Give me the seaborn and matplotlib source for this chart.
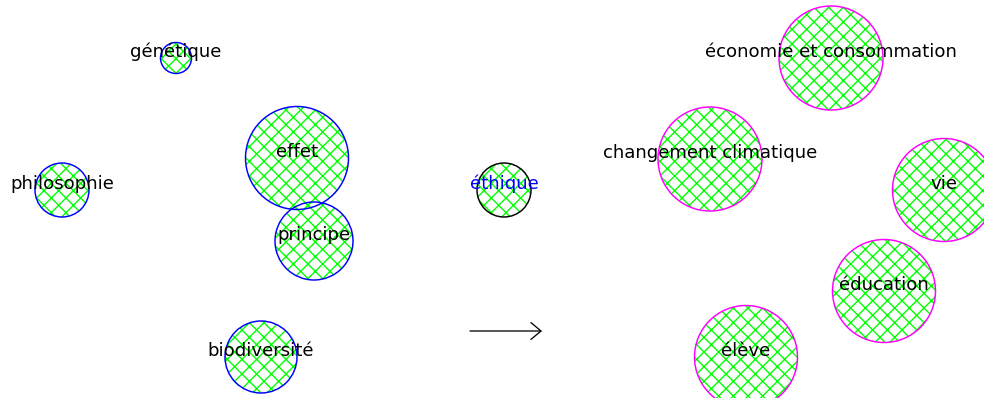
import numpy as np
import pandas as pd
import matplotlib
matplotlib.use("Agg")
import matplotlib.pyplot as plt
import seaborn as sns

# mots-clés, à gauche de la flèche
left_labels = ["génétique", "effet", "philosophie", "principe", "biodiversité"]
left_x = [176, 297, 62, 314, 261]
left_y = [58, 158, 190, 241, 357]
left_r = [15.5, 51.5, 27, 39, 36]

# mot central
mid_labels = ["éthique"]
mid_x = [504]
mid_y = [190]
mid_r = [27]

# mots-clés, à droite de la flèche
right_labels = ["économie et consommation", "changement climatique", "vie",
                "éducation", "élève"]
right_x = [831, 710, 944, 884, 746]
right_y = [58, 159, 190, 291, 357]
right_r = [52, 52, 51.5, 51.5, 51.5]

arrow_start = (470, 331)
arrow_end = (542, 331)

DPI = 132
W, H = 984, 398

sns.set_style("white")
plt.rcParams['font.family'] = ['DejaVu Sans']
plt.rcParams['hatch.linewidth'] = 0.75

fig = plt.figure(figsize=(W / DPI, H / DPI), dpi=DPI)
ax = fig.add_axes([0, 0, 1, 1])


def circles(df, edge, hatch, lw):
    sns.scatterplot(data=df, x='x', y='y', ax=ax, legend=False, marker='o')
    coll = ax.collections[-1]
    # diamètre du marqueur en points
    diam = 2 * df['r'].to_numpy() * 72 / DPI
    coll.set_sizes(diam ** 2)
    coll.set_facecolor('none')
    coll.set_edgecolor(edge)
    coll.set_linewidth(lw)
    if hatch:
        coll.set_hatch(hatch)


def draw_group(labels, xs, ys, rs, edge, text_color):
    df = pd.DataFrame({'x': xs, 'y': ys, 'r': rs, 'label': labels})
    # hachures vertes d'abord, puis le contour par-dessus
    circles(df, '#00ff00', 'xxx', 0)
    circles(df, edge, None, 0.8)
    for _, row in df.iterrows():
        ax.text(row['x'], row['y'] - 6, row['label'], ha='center', va='center',
                fontsize=9.9, color=text_color, zorder=5)


draw_group(left_labels, left_x, left_y, left_r, '#0000ff', 'black')
draw_group(mid_labels, mid_x, mid_y, mid_r, 'black', '#0000ff')
draw_group(right_labels, right_x, right_y, right_r, '#ff00ff', 'black')

ax.annotate('', xy=arrow_end, xytext=arrow_start,
            arrowprops=dict(arrowstyle='->,head_length=0.55,head_width=0.46',
                            color='black', lw=0.7, mutation_scale=10,
                            shrinkA=0, shrinkB=0))

ax.set_xlim(0, W)
ax.set_ylim(H, 0)
ax.axis('off')

fig.savefig('out.png', dpi=DPI)
